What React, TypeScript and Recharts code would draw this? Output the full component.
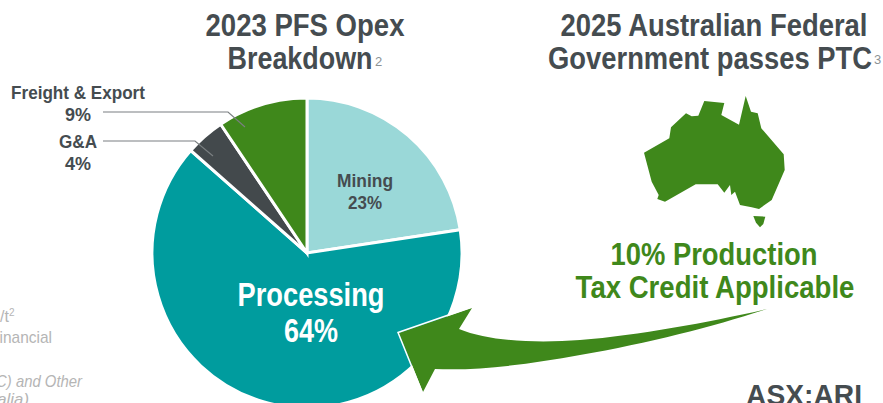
import { PieChart, Pie, Cell } from "recharts";

const categories = ["Mining", "Processing", "G&A", "Freight & Export"];
// printed labels, and the slightly different sweep the slices actually have in the picture
const shareLabels = [23, 64, 4, 9];
const sliceValues = [22.6, 63.9, 4.1, 9.4];
const sliceColors = ["#9AD8D8", "#009C9E", "#43494C", "#3F881B"];

const chartData = categories.map((name, i) => ({ name, value: sliceValues[i] }));
const pct = (i: number) => `${shareLabels[i]}%`;

const DARK = "#454C50";
const GREEN = "#3F881B";
const GREY = "#B5B5B5";
const FONT = "'Liberation Sans', Arial, sans-serif";

const measureCtx = document.createElement("canvas").getContext("2d");

interface TxtProps {
  x: number;
  y: number;
  size: number;
  width?: number;
  fill?: string;
  anchor?: "start" | "middle" | "end";
  weight?: number;
  italic?: boolean;
  children: string;
}

// the slide font is condensed, so squeeze the glyphs horizontally to the measured width
function Txt({ x, y, size, width, fill = DARK, anchor = "middle", weight = 700, italic, children }: TxtProps) {
  const style = italic ? "italic" : "normal";
  let sx = 1;
  if (width && measureCtx) {
    measureCtx.font = `${style} ${weight} ${size}px ${FONT}`;
    sx = width / measureCtx.measureText(children).width;
  }
  return (
    <text
      transform={`translate(${x} ${y}) scale(${sx} 1)`}
      fontSize={size}
      fontFamily={FONT}
      fontWeight={weight}
      fontStyle={style}
      fill={fill}
      textAnchor={anchor}
    >
      {children}
    </text>
  );
}

function Overlay() {
  return (
    <svg width={883} height={403} style={{ position: "absolute", left: 0, top: 0 }}>
      <Txt x={305} y={36} size={32} width={199}>2023 PFS Opex</Txt>
      <Txt x={300} y={69} size={32} width={145}>Breakdown</Txt>
      <Txt x={375} y={66} size={13} anchor="start" weight={400} fill="#8C9295">2</Txt>
      <Txt x={714} y={36} size={32} width={308}>2025 Australian Federal</Txt>
      <Txt x={710} y={69} size={32} width={324}>Government passes PTC</Txt>
      <Txt x={874} y={64} size={13} anchor="start" weight={400} fill="#8C9295">3</Txt>

      <Txt x={78} y={99} size={19} width={134}>{categories[3]}</Txt>
      <Txt x={78} y={121} size={19} width={26}>{pct(3)}</Txt>
      <Txt x={78} y={148} size={19} width={38}>{categories[2]}</Txt>
      <Txt x={78} y={170} size={19} width={26}>{pct(2)}</Txt>
      <polyline points="103,112 228,112 245,127" fill="none" stroke="#7A7F81" strokeWidth={1.2} />
      <polyline points="103,141 195,141 213,156" fill="none" stroke="#7A7F81" strokeWidth={1.2} />

      <Txt x={365} y={187} size={19} width={56}>{categories[0]}</Txt>
      <Txt x={365} y={209} size={19} width={34}>{pct(0)}</Txt>
      <Txt x={311} y={306} size={34} width={147} fill="#FFFFFF">{categories[1]}</Txt>
      <Txt x={311} y={342} size={34} width={54} fill="#FFFFFF">{pct(1)}</Txt>

      <polygon
        fill={GREEN}
        points="644,152.7 669.3,138.3 671,127.3 686,113.3 691.7,116.3 698.3,115.7 704.3,101 724.3,103 721.3,115 739,124.7 745.7,96 751,111.7 757.7,113.3 761.3,128.3 783.7,154.3 784.7,170 771.7,200 759,209 751.7,207.3 740,205 735,191.7 731.3,195 730,185 724.3,192.7 717.7,184.3 695.7,184.3 665,201.7 657.3,199 658.7,195 651.7,181.7"
      />
      <polygon fill={GREEN} points="753.3,216 765.3,216.7 763.3,224 760,227.3 756,222.7" />

      <Txt x={714} y={265} size={32} width={207} fill={GREEN}>10% Production</Txt>
      <Txt x={715} y={298} size={32} width={280} fill={GREEN}>Tax Credit Applicable</Txt>

      <path
        d="M399,333 L472,308 L459,329 C490,342 540,343 580,340 C640,335 710,322 767,309 C715,326 650,343 580,355 C530,364 480,371 435,369 L423,392 Z"
        fill={GREEN}
      />
      <polyline points="473,306.5 398,332.5 422,392" fill="none" stroke="#FFFFFF" strokeWidth={1.5} />

      <Txt x={804} y={405} size={30} width={116}>ASX:ARI</Txt>

      <Txt x={9} y={322} size={16} anchor="end" weight={400} fill={GREY}>/t</Txt>
      <Txt x={9} y={316} size={10} anchor="start" weight={400} fill={GREY}>2</Txt>
      <Txt x={52} y={343} size={16} anchor="end" width={62} weight={400} fill={GREY}>Financial</Txt>
      <Txt x={82} y={387} size={16} anchor="end" width={86} weight={400} italic fill={GREY}>C) and Other</Txt>
      <Txt x={29} y={405} size={16} anchor="end" width={42} weight={400} italic fill={GREY}>tralia)</Txt>
    </svg>
  );
}

export default function App() {
  return (
    <div style={{ position: "absolute", left: 0, top: 0, width: 883, height: 403, overflow: "hidden", background: "#FFFFFF" }}>
      <PieChart width={883} height={403} margin={{ top: 0, right: 0, bottom: 0, left: 0 }}>
        <Pie
          data={chartData}
          dataKey="value"
          nameKey="name"
          cx={307}
          cy={253}
          outerRadius={155}
          startAngle={90}
          endAngle={-270}
          stroke="#FFFFFF"
          strokeWidth={3}
          isAnimationActive={false}
        >
          {chartData.map((d, i) => (
            <Cell key={d.name} fill={sliceColors[i]} />
          ))}
        </Pie>
      </PieChart>
      <Overlay />
    </div>
  );
}
